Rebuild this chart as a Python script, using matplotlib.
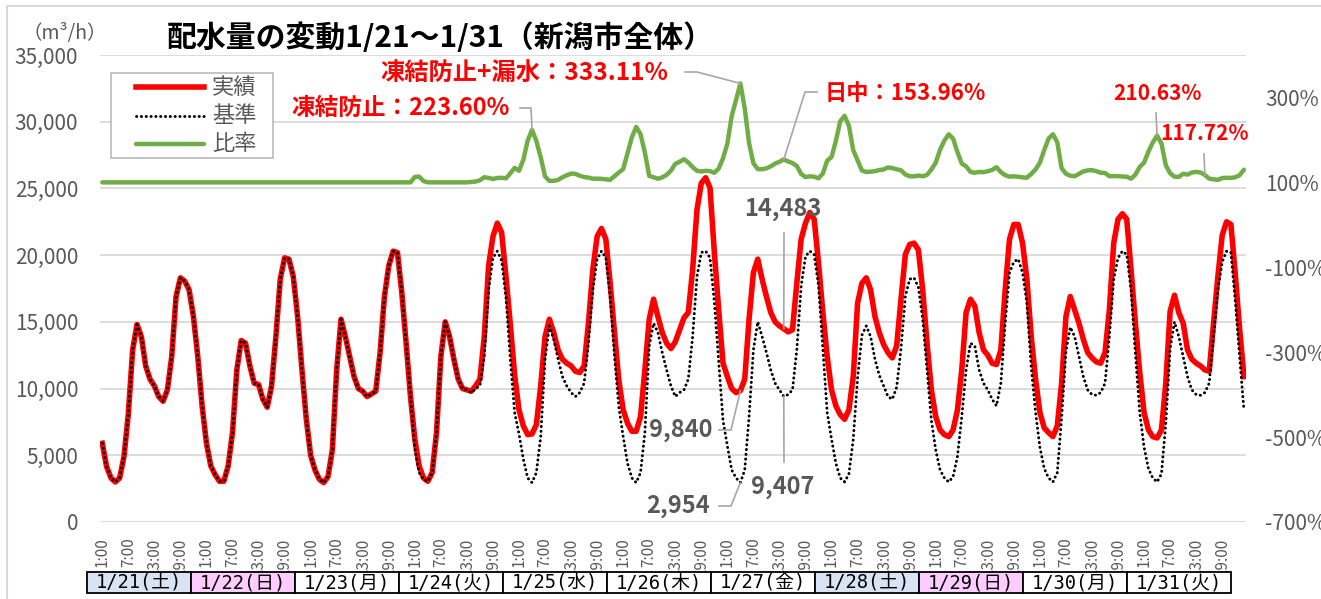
import matplotlib
matplotlib.use('Agg')
import matplotlib.pyplot as plt
from matplotlib.lines import Line2D
from matplotlib.patches import Rectangle
from matplotlib.ticker import FuncFormatter
import numpy as np

plt.rcParams['font.family'] = ['Noto Sans CJK JP', 'DejaVu Sans']

# hourly data 1:00 .. 24:00 for each day
days = ['1/21', '1/22', '1/23', '1/24', '1/25', '1/26', '1/27', '1/28', '1/29', '1/30', '1/31']
weekdays = ['土', '日', '月', '火', '水', '木', '金', '土', '日', '月', '火']
hour_labels = ['1:00', '7:00', '13:00', '19:00']

actual = [
    5900, 4150, 3300, 3000, 3300, 4900, 8100, 12900, 14800, 13900, 11700, 10700, 10200, 9400, 9050, 9900, 12400, 16900, 18300, 18050, 17400, 15400, 12400, 8700,  # 1/21
    5900, 4200, 3550, 3050, 3050, 4200, 6700, 11400, 13600, 13400, 11700, 10400, 10300, 9200, 8600, 10200, 13900, 18200, 19800, 19700, 18400, 15400, 11400, 7700,  # 1/22
    5000, 3900, 3200, 2950, 3400, 5400, 11400, 15200, 13900, 12400, 10900, 10000, 9800, 9400, 9600, 9800, 12700, 16900, 19200, 20300, 20200, 17200, 13400, 9400,  # 1/23
    6200, 4200, 3300, 3050, 3700, 6700, 12400, 15000, 13900, 12200, 10700, 10000, 9900, 9800, 10200, 10700, 13900, 19200, 21400, 22400, 21700, 18400, 14800, 11000,  # 1/24
    8400, 7200, 6550, 6600, 7300, 10200, 13900, 15200, 14200, 12900, 12200, 11900, 11700, 11300, 11200, 11700, 14900, 18900, 21400, 22000, 21200, 17900, 14200, 10600,  # 1/25
    8400, 7400, 6800, 6800, 7900, 11400, 15200, 16700, 15400, 14200, 13400, 13000, 13500, 14400, 15300, 15700, 18900, 23400, 25400, 25800, 25050, 20200, 15900, 11900,  # 1/26
    10900, 10000, 9700, 9840, 10700, 15200, 18700, 19700, 18200, 16900, 15700, 15000, 14700, 14483, 14250, 14400, 17900, 21200, 22400, 23200, 22700, 19400, 15700, 12400,  # 1/27
    9900, 8700, 8050, 7700, 8400, 10900, 16400, 17900, 18300, 17400, 15400, 14200, 13300, 12700, 12300, 13200, 16700, 20050, 20800, 20900, 20400, 17400, 13400, 9900,  # 1/28
    7900, 6900, 6550, 6400, 6900, 8400, 11400, 15700, 16700, 16200, 14200, 12900, 12500, 11900, 11800, 12900, 17400, 21200, 22300, 22300, 20900, 18200, 13900, 10700,  # 1/29
    8200, 7050, 6700, 6400, 7200, 10400, 15400, 16900, 15900, 14900, 13700, 12700, 12300, 12000, 11900, 12700, 15900, 20900, 22700, 23100, 22700, 18900, 14900, 11200,  # 1/30
    8200, 6900, 6400, 6300, 6900, 10400, 15800, 17000, 15700, 14900, 12900, 12200, 11900, 11700, 11400, 11300, 14900, 18400, 21500, 22500, 22300, 18600, 14500, 10900,  # 1/31
]

base = [
    5900, 4150, 3300, 3000, 3300, 4900, 8100, 12900, 14800, 13900, 11700, 10700, 10200, 9400, 9050, 9900, 12400, 16900, 18300, 18050, 17400, 15400, 12400, 8700,  # 1/21
    5900, 4200, 3550, 3050, 3050, 4200, 6700, 11400, 13600, 13400, 11700, 10400, 10300, 9200, 8600, 10200, 13900, 18200, 19800, 19700, 18400, 15400, 11400, 7700,  # 1/22
    5000, 3900, 3200, 2950, 3400, 5400, 11400, 15200, 13900, 12400, 10900, 10000, 9800, 9400, 9600, 9800, 12700, 16900, 19200, 20300, 20200, 17200, 13400, 9400,  # 1/23
    5500, 3700, 3200, 3050, 3700, 6700, 12400, 15000, 13900, 12200, 10700, 10000, 9900, 9700, 10000, 10200, 12400, 17400, 19800, 20300, 19600, 16800, 12200, 8200,  # 1/24
    6600, 4700, 3300, 2950, 3700, 6400, 12200, 14700, 13700, 12200, 10900, 10200, 9700, 9400, 9700, 10400, 13400, 17400, 19700, 20300, 19800, 16900, 12400, 8600,  # 1/25
    6400, 4400, 3300, 2950, 3700, 6700, 13200, 14900, 14200, 12700, 11400, 10200, 9400, 9700, 9900, 10700, 13900, 18400, 20200, 20300, 19800, 16500, 12000, 7600,  # 1/26
    5700, 3900, 3300, 2954, 3900, 7900, 12900, 15000, 13900, 12700, 11400, 10400, 9900, 9407, 9550, 9900, 12900, 17700, 19900, 20300, 20050, 17700, 13000, 8200,  # 1/27
    6200, 4400, 3300, 3000, 3600, 6200, 10800, 14000, 14700, 13900, 12200, 11000, 10200, 9400, 9200, 10100, 13000, 16900, 18200, 18300, 17600, 15200, 11400, 7600,  # 1/28
    5400, 3900, 3300, 3000, 3400, 4900, 7900, 11400, 13400, 13200, 11400, 10400, 9900, 9200, 8700, 10400, 14900, 18700, 19500, 19700, 18700, 16400, 11600, 8200,  # 1/29
    5600, 4000, 3300, 3000, 3700, 7800, 12800, 14600, 13900, 12400, 10900, 9900, 9550, 9500, 9700, 10400, 13900, 18200, 19800, 20300, 20050, 17400, 12600, 8200,  # 1/30
    5600, 4000, 3300, 3000, 3600, 7400, 13000, 15000, 13900, 12400, 10900, 9900, 9550, 9500, 9700, 10400, 13900, 17400, 19500, 20300, 20200, 16600, 12400, 8400,  # 1/31
]

x = np.arange(len(actual))
ratio = np.array(actual) / np.array(base) * 100

W, H = 1321, 599
fig = plt.figure(figsize=(W / 100, H / 100), dpi=100)


def fx(px):
    return px / W


def fy(py):
    return 1 - py / H


dot_style = dict(color='black', lw=2.1, linestyle=(0, (0.1, 1.55)), dash_capstyle='round')

ax = fig.add_axes([fx(100.1), 77 / H, 1146 / W, 467 / H])
ax.plot(x, actual, color='#ff0000', lw=4.0, solid_joinstyle='round', zorder=3)
ax.plot(x, base, zorder=4, **dot_style)
ax.set_xlim(-0.5, len(x) - 0.5)
ax.set_ylim(0, 35000)
ax.set_yticks(range(0, 35001, 5000))
ax.yaxis.set_major_formatter(FuncFormatter(lambda v, p: f'{int(v):,}'))
ax.grid(axis='y', color='#d9d9d9', lw=1.3)
ax.set_axisbelow(True)
for s in ax.spines.values():
    s.set_visible(False)
ax.tick_params(axis='y', length=0, pad=15.8, labelsize=15, labelcolor='#595959')
ticks = [d * 24 + h for d in range(len(days)) for h in (0, 6, 12, 18)]
ax.set_xticks(ticks)
ax.set_xticklabels(hour_labels * len(days), rotation=90)
ax.tick_params(axis='x', length=0, pad=11, labelsize=11, labelcolor='#595959')

ax2 = ax.twinx()
ax2.plot(x, ratio, color='#70ad47', lw=3.2, solid_joinstyle='round', solid_capstyle='round')
ax2.set_ylim(-700, 400)
ax2.set_yticks([-700, -500, -300, -100, 100, 300])
ax2.yaxis.set_major_formatter(FuncFormatter(lambda v, p: f'{int(v)}%'))
for s in ax2.spines.values():
    s.set_visible(False)
ax2.tick_params(axis='y', length=0, pad=13.7, labelsize=15, labelcolor='#595959')

# chart border
fig.add_artist(Rectangle((fx(7), fy(1000)), fx(1400), 994 / H, transform=fig.transFigure,
                         fill=False, edgecolor='#d9d9d9', lw=1.5))

# title and unit
fig.text(fx(167), fy(38), '配水量の変動1/21～1/31（新潟市全体）', fontsize=21.5,
         fontweight='bold', color='black', ha='left', va='center')
fig.text(fx(23), fy(33), '（m³/h）', fontsize=14, color='#595959', ha='left', va='center')

# legend
fig.add_artist(Rectangle((fx(111), fy(158)), fx(162), 85 / H, transform=fig.transFigure,
                         facecolor='white', edgecolor='#bfbfbf', lw=1.3, zorder=8))
leg_items = [('実績', dict(color='#ff0000', lw=4.0)),
             ('基準', dot_style),
             ('比率', dict(color='#70ad47', lw=3.2, solid_capstyle='round'))]
for k, (lab, st) in enumerate(leg_items):
    yy = 87 + k * 28.5
    fig.add_artist(Line2D([fx(136), fx(204)], [fy(yy), fy(yy)], transform=fig.transFigure,
                          zorder=9, **st))
    fig.text(fx(212), fy(yy), lab, fontsize=16, color='#595959', ha='left', va='center', zorder=9)

# date boxes under the axis
box_left, box_w, box_top, box_bot = 86.7, 104.0, 572, 593
fills = {'土': '#dae3f3', '日': '#ffccff'}
for i, (d, wd) in enumerate(zip(days, weekdays)):
    x0 = box_left + i * box_w
    fig.add_artist(Rectangle((fx(x0), fy(box_bot)), box_w / W, (box_bot - box_top) / H,
                             transform=fig.transFigure, facecolor=fills.get(wd, 'white'),
                             edgecolor='black', lw=1.3, zorder=10))
    fig.text(fx(x0 + box_w / 2), fy((box_top + box_bot) / 2 + 0.5), f'{d}({wd})',
             fontsize=13.5, family=['DejaVu Sans Mono', 'Noto Sans CJK JP'],
             ha='center', va='center', zorder=11)


def leader(pts, axis, xi, yv):
    px, py = axis.transData.transform((xi, yv))
    xs = [fx(p[0]) for p in pts] + [px / W]
    ys = [fy(p[1]) for p in pts] + [py / H]
    fig.add_artist(Line2D(xs, ys, transform=fig.transFigure, color='#a6a6a6', lw=1.2, zorder=7))


red_kw = dict(fontweight='bold', color='#ff0000', va='center')
fig.text(fx(668), fy(73), '凍結防止+漏水：333.11%', ha='right', fontsize=17.5, **red_kw)
fig.text(fx(510), fy(108), '凍結防止：223.60%', ha='right', fontsize=17, **red_kw)
fig.text(fx(825), fy(93), '日中：153.96%', ha='left', fontsize=16, **red_kw)
fig.text(fx(1157), fy(93), '210.63%', ha='center', fontsize=15, **red_kw)
fig.text(fx(1205), fy(134), '117.72%', ha='center', fontsize=15, **red_kw)
leader([(685, 72), (697, 72)], ax2, 147, ratio[147])
leader([(520, 108), (531, 108)], ax2, 99, ratio[99])
leader([(817, 92), (805, 92)], ax2, 157, ratio[157])
leader([(1156, 113)], ax2, 243, ratio[243])
leader([(1204, 154)], ax2, 254, ratio[254])

gray_kw = dict(fontsize=17, fontweight='bold', color='#595959', va='center')
fig.text(fx(783), fy(209), '14,483', ha='center', **gray_kw)
fig.text(fx(712), fy(430), '9,840', ha='right', **gray_kw)
fig.text(fx(710), fy(506), '2,954', ha='right', **gray_kw)
fig.text(fx(783), fy(487), '9,407', ha='center', **gray_kw)
leader([(719, 430), (731, 430)], ax, 147, actual[147])
leader([(719, 506), (731, 506)], ax, 147, base[147])
leader([(784, 233)], ax, 157, actual[157])
leader([(784, 462)], ax, 157, base[157])

fig.savefig('out.png', dpi=100)
